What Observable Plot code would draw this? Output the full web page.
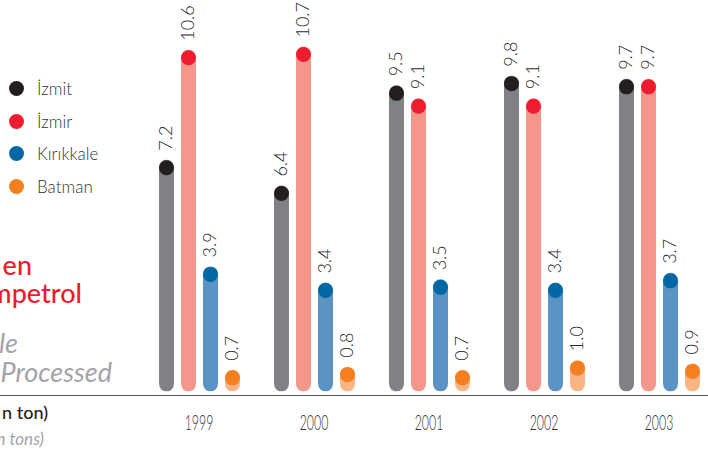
<!DOCTYPE html>
<html><head><meta charset="utf-8">
<script src="https://cdn.jsdelivr.net/npm/d3@7"></script>
<script src="https://cdn.jsdelivr.net/npm/@observablehq/plot@0.6"></script>
<style>
html,body{margin:0;padding:0;background:#fff;}
body{width:708px;height:459px;overflow:hidden;position:relative;font-family:Lato,"Open Sans",sans-serif;}
#chart{position:absolute;left:0;top:0;}
#baseline{position:absolute;left:0;top:394.5px;width:708px;height:1.5px;background:#555;}
#legend{position:absolute;left:9px;top:72px;}
.item{height:32.7px;display:flex;align-items:center;font-size:17px;font-weight:300;color:#333;}
.sw{width:15px;height:15px;border-radius:50%;display:inline-block;margin-right:13px;}
.side{position:absolute;white-space:nowrap;line-height:0.75;}
.red{color:#ed1c2e;font-size:27px;font-weight:500;}
.grey{color:#a3a4a8;font-size:27px;font-style:italic;}
.unit{color:#222;font-size:18px;font-weight:500;}
.unit2{color:#a3a4a8;font-size:17px;font-style:italic;}
</style></head><body>
<div id="chart"></div>
<div id="baseline"></div>
<div id="legend"></div>
<div class="side red" style="right:676px;top:254.5px;">en</div>
<div class="side red" style="right:626px;top:282.5px;">mpetrol</div>
<div class="side grey" style="right:690px;top:332.5px;">le</div>
<div class="side grey" style="right:596px;top:361.5px;">Processed</div>
<div class="side unit" style="right:660px;top:406px;">n ton)</div>
<div class="side unit2" style="right:664px;top:433px;">n tons)</div>
<script>
const years = ["1999", "2000", "2001", "2002", "2003"];
const series = ["İzmit", "İzmir", "Kırıkkale", "Batman"];
const izmit = [7.2, 6.4, 9.5, 9.8, 9.7];
const izmir = [10.6, 10.7, 9.1, 9.1, 9.7];
const kirikkale = [3.9, 3.4, 3.5, 3.4, 3.7];
const batman = [0.7, 0.8, 0.7, 1.0, 0.9];
const dotColors = ["#231f20", "#ed1c2e", "#0067a5", "#f47f20"];
const barColors = ["#808185", "#f4978a", "#5b93c5", "#fbb584"];
const barFloor = 0.5;

const valuesBySeries = [izmit, izmir, kirikkale, batman];
const rows = [];
years.forEach((year, i) => {
  series.forEach((s, j) => {
    rows.push({year, series: s, value: valuesBySeries[j][i], bar: barColors[j], dot: dotColors[j]});
  });
});

const chart = Plot.plot({
  width: 708,
  height: 459,
  marginTop: 12,
  marginBottom: 59,
  marginLeft: 141,
  marginRight: -8,
  style: {fontFamily: "Lato, sans-serif", fontSize: "16px", color: "#333", background: "transparent"},
  facet: {data: rows, x: "year"},
  fx: {domain: years, padding: 0, axis: null},
  x: {type: "point", domain: series, padding: 1.056, axis: null},
  y: {domain: [0, 12], axis: null},
  color: {type: "identity"},
  marks: [
    Plot.ruleX(rows, {x: "series", y1: barFloor, y2: "value", stroke: "bar", strokeWidth: 15, strokeLinecap: "round"}),
    Plot.dot(rows, {x: "series", y: "value", r: 7.5, fill: "dot", stroke: null}),
    Plot.text(rows, {x: "series", y: "value", text: d => d.value.toFixed(1), rotate: -90, textAnchor: "start", dy: -17, fontSize: 18, fontWeight: 300, fill: "#2a2a2a"}),
    Plot.text(rows, {filter: d => d.series === series[0], text: "year", frameAnchor: "bottom", lineAnchor: "middle", dy: 22, fontSize: 22, fontWeight: 300, fill: "#333", className: "yearlabels"})
  ]
});
document.getElementById("chart").appendChild(chart);

// narrow the year labels horizontally, keeping each label's own position
chart.querySelectorAll(".yearlabels text").forEach(el => {
  const t = el.getAttribute("transform");
  if (t) {
    el.setAttribute("transform", t + " scale(0.56,1)");
  } else {
    const x = +el.getAttribute("x") || 0, y = +el.getAttribute("y") || 0;
    el.removeAttribute("x"); el.removeAttribute("y");
    el.setAttribute("transform", `translate(${x},${y}) scale(0.56,1)`);
  }
});

const legend = document.getElementById("legend");
series.forEach((s, j) => {
  const item = document.createElement("div");
  item.className = "item";
  const sw = document.createElement("span");
  sw.className = "sw";
  sw.style.background = dotColors[j];
  item.appendChild(sw);
  item.appendChild(document.createTextNode(s));
  legend.appendChild(item);
});
</script>
</body></html>
